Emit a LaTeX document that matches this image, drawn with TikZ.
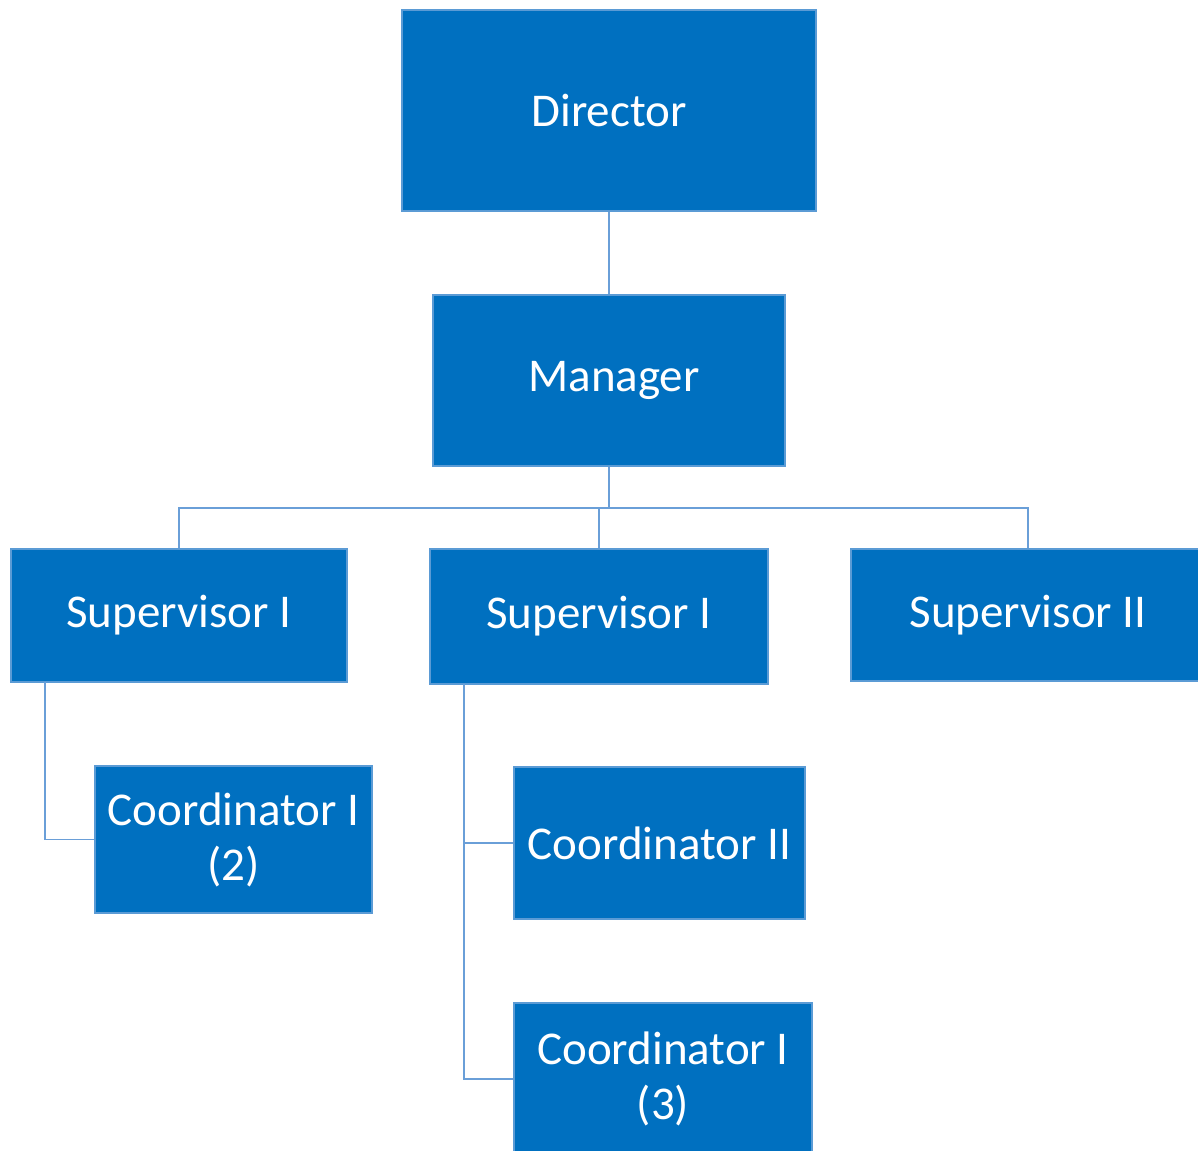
\documentclass[tikz,border=0pt]{standalone}
\usepackage{fontspec}
\setmainfont{Carlito}
\definecolor{boxfill}{HTML}{0070C0}
\definecolor{boxedge}{HTML}{5B9BD5}
\definecolor{linkcol}{HTML}{6A9FD8}
\begin{document}
\begin{tikzpicture}[x=1pt,y=-1pt,
  orgbox/.style={draw=boxedge,line width=1.5pt,fill=boxfill,text=white,
    font=\fontsize{47}{55}\selectfont,align=center,inner sep=0pt},
  link/.style={draw=linkcol,line width=1.3pt}]
\useasboundingbox (0,0) rectangle (1198,1150);
\begin{scope}
\clip (0,0) rectangle (1198,1150);
\node[orgbox,minimum width=414,minimum height=201] (dir) at (609,110.5) {Director};
\node[orgbox,minimum width=352,minimum height=171] (man) at (609,380.5) {\hspace*{10pt}Manager};
\node[orgbox,minimum width=336,minimum height=133] (s1) at (179,615.5) {Supervisor I};
\node[orgbox,minimum width=338,minimum height=135] (s2) at (599,616.5) {Supervisor I};
\node[orgbox,minimum width=354,minimum height=132] (s3) at (1028,615) {Supervisor II};
\node[orgbox,minimum width=277,minimum height=147] (c1) at (233.5,839.5) {Coordinator I\\(2)};
\node[orgbox,minimum width=291,minimum height=152] (c2) at (659.5,843) {Coordinator II};
\node[orgbox,minimum width=298,minimum height=152] (c3) at (663,1079) {Coordinator I\\(3)};
\end{scope}
\coordinate (hub) at (609,508);
\draw[link] (dir.south) -- (man.north);
\draw[link] (man.south) -- (hub);
\draw[link] (s1.north) |- (hub);
\draw[link] (s3.north) |- (hub);
\draw[link] (s2.north) -- ++(0,-41);
\coordinate (s1d) at (45,682);
\coordinate (s2d) at (464,684);
\draw[link] (s1d) |- (c1.west);
\draw[link] (s2d) |- (c2.west);
\draw[link] (s2d) |- (c3.west);
\end{tikzpicture}
\end{document}
